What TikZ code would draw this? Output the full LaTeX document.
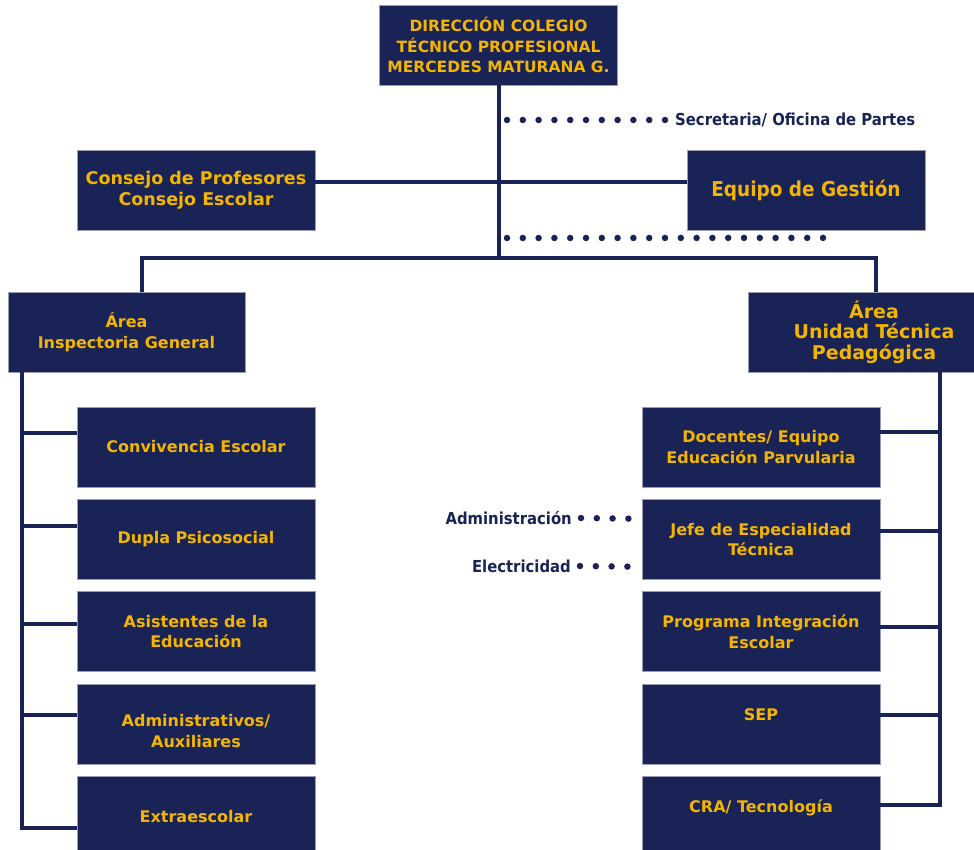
\documentclass[tikz,border=0pt]{standalone}
\usepackage{fontspec}
\setmainfont{DejaVu Sans}
\newfontfamily\narrowfont{DejaVu Sans Condensed}
\usetikzlibrary{positioning}
\definecolor{navy}{RGB}{26,35,86}
\definecolor{gold}{RGB}{243,181,0}

\begin{document}
\begin{tikzpicture}[x=1pt,y=-1pt,node distance=11.5pt,
    box/.style={rectangle,fill=navy,draw=navy!45!white,line width=0.8pt,minimum width=238pt,minimum height=80pt,align=center,text=gold,font=\fontsize{16}{20.5}\selectfont\bfseries},
    side/.style={inner sep=0pt,text=navy,font=\narrowfont\fontsize{16.5}{20}\selectfont\bfseries},
    bus/.style={draw=navy,line width=4pt},
    dots/.style={draw=navy,line width=6.5pt,line cap=round,dash pattern=on 0pt off 15.8pt}]

    \useasboundingbox (0,0) rectangle (974,850);

    % top of the chart
    \node[box,font=\fontsize{15.5}{20.5}\selectfont\bfseries] (dir) at (498.5,45) {DIRECCIÓN COLEGIO\\TÉCNICO PROFESIONAL\\MERCEDES MATURANA G.};
    \node[box,font=\fontsize{17.5}{21}\selectfont\bfseries] (cons) at (196,190.5) {Consejo de Profesores\\Consejo Escolar};
    \node[box,font=\narrowfont\fontsize{20.5}{24}\selectfont\bfseries] (eq) at (806,190.5) {Equipo de Gestión};
    \node[side,anchor=west] (sec) at (675,120) {Secretaria/ Oficina de Partes};
    \node[box,minimum width=237pt] (ig) at (126.5,332) {Área\\Inspectoria General};
    \node[box,minimum width=252pt,font=\fontsize{19}{20.5}\selectfont\bfseries] (utp) at (874,332) {Área\\Unidad Técnica\\Pedagógica};

    % left column
    \node[box] (conv) at (196,447) {Convivencia Escolar};
    \node[box] (dupla) [below=of conv] {Dupla Psicosocial};
    \node[box] (asist) [below=of dupla] {Asistentes de la\\Educación};
    \node[box] (admin) [below=of asist] {\raisebox{-9pt}[\height][\depth]{\begin{tabular}{@{}c@{}}Administrativos/\\Auxiliares\end{tabular}}};
    \node[box] (extra) [below=of admin] {Extraescolar};

    % right column
    \node[box] (doc) at (761,447) {Docentes/ Equipo\\Educación Parvularia};
    \node[box] (jefe) [below=of doc] {Jefe de Especialidad\\Técnica};
    \node[box] (prog) [below=of jefe] {Programa Integración\\Escolar};
    \node[box,text depth=18pt] (sep) [below=of prog] {SEP};
    \node[box,text depth=20pt] (cra) [below=of sep] {CRA/ Tecnología};
    \node[side,anchor=east] (adm) at (572,518) {Administración};
    \node[side,anchor=east] (elec) at (571,566) {Electricidad};

    \coordinate (hub) at (498.5,258);
    \coordinate (sec dot) at (507,120);
    \coordinate (eq dot) at (507,238);
    \coordinate (eq tail) at ([xshift=17pt,yshift=-7pt]eq.south);
    \coordinate (ig bus) at ([xshift=14pt]ig.south west);
    \coordinate (utp bus) at ([xshift=-60pt]utp.south east);

    \draw[bus] (dir) -- (hub);
    \draw[bus] ([yshift=8.5pt]cons.east) -- ([yshift=8.5pt]eq.west);
    \draw[bus] ([xshift=15.5pt]ig.north) |- (hub) -| ([xshift=2pt]utp.north);

    \foreach \n/\dy in {extra/-12,conv/14,dupla/13.5,asist/8,admin/8.5}
        \draw[bus] ([yshift=\dy pt]\n.west) -| (ig bus);
    \foreach \n/\dy in {cra/11,doc/15,jefe/8.5,prog/5,sep/8.5}
        \draw[bus] ([yshift=\dy pt]\n.east) -| (utp bus);

    \draw[dots] (sec dot) -- (sec.west);
    \draw[dots] (eq dot) -- (eq tail);
    \draw[dots] ([xshift=9pt]adm.east) -- ([yshift=20.5pt]jefe.west);
    \draw[dots] ([xshift=9pt]elec.east) -- ([yshift=-27.5pt]jefe.west);
\end{tikzpicture}
\end{document}
